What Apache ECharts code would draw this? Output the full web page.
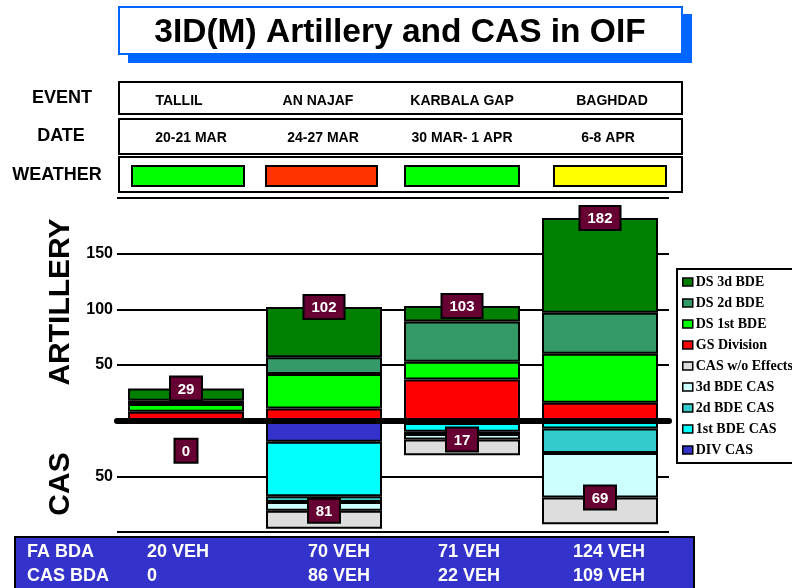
<!DOCTYPE html>
<html>
<head>
<meta charset="utf-8">
<title>3ID(M) Artillery and CAS in OIF</title>
<script src="https://cdn.jsdelivr.net/npm/echarts@6/dist/echarts.min.js"></script>
</head>
<body style="margin:0">
<div id="main" style="width:792px;height:588px;"></div>
<script type="text/javascript">
// table rows
var events = ['TALLIL', 'AN NAJAF', 'KARBALA GAP', 'BAGHDAD'];
var dates = ['20-21 MAR', '24-27 MAR', '30 MAR- 1 APR', '6-8 APR'];
var weather = ['#00ff00', '#ff3300', '#00ff00', '#ffff00'];

// artillery missions, stacked upward
var gsDivision = [8, 11, 37, 16];
var ds1stBde = [7, 31, 16, 44];
var ds2dBde = [3, 15, 36, 37];
var ds3dBde = [11, 45, 14, 85];
var artyTotal = [29, 102, 103, 182];

// CAS sorties, stacked downward
var divCas = [0, 19, 2, 0];
var bde1Cas = [0, 49, 8, 7];
var bde2Cas = [0, 5, 2, 22];
var bde3Cas = [0, 8, 5, 40];
var casNoEffect = [0, 16, 14, 24];
var casTotal = [0, 81, 17, 69];

// BDA strip
var faBda = ['20 VEH', '70 VEH', '71 VEH', '124 VEH'];
var casBda = ['0', '86 VEH', '22 VEH', '109 VEH'];

var FONT = "'Liberation Sans', Arial, sans-serif";
var myChart = echarts.init(document.getElementById('main'));

function neg(arr) {
    return arr.map(function (v) { return -v; });
}

function stackBar(name, data, stack, color) {
    return {
        name: name,
        type: 'bar',
        stack: stack,
        barWidth: 116,
        barGap: '-100%',
        data: data,
        itemStyle: { color: color, borderColor: '#000', borderWidth: 2 },
        emphasis: { disabled: true }
    };
}

function boxLabel(params, api) {
    var v = api.value(1);
    var p = api.coord([api.value(0), v]);
    var txt = String(Math.abs(v));
    var w = 14 + 9 * txt.length;
    var y = p[1];
    if (v === 0) y += 30;
    return {
        type: 'group',
        children: [{
            type: 'rect',
            shape: { x: p[0] - w / 2, y: y - 12, width: w, height: 24 },
            style: { fill: '#660033', stroke: '#000', lineWidth: 2 }
        }, {
            type: 'text',
            style: {
                text: txt, x: p[0], y: y + 1, align: 'center', verticalAlign: 'middle',
                font: 'bold 15px ' + FONT, fill: '#fff'
            }
        }]
    };
}

// header / table / footer drawn as graphics
var colEvent = [179, 318, 462, 612];
var colDate = [191, 323, 462, 608];
var colWx = [[132, 244], [266, 377], [405, 519], [554, 666]];
var colBda = [147, 308, 438, 573];

var g = [];
g.push({ type: 'rect', shape: { x: 128, y: 14, width: 564, height: 49 }, style: { fill: '#0066ff' } });
g.push({ type: 'rect', shape: { x: 119, y: 7, width: 563, height: 47 }, style: { fill: '#fff', stroke: '#0066ff', lineWidth: 2 } });
g.push({ type: 'text', style: { text: '3ID(M) Artillery and CAS in OIF', x: 400, y: 33, align: 'center', verticalAlign: 'middle', font: 'bold 33.5px ' + FONT, fill: '#000' } });

[[82, 32], [119, 35], [157, 35]].forEach(function (r) {
    g.push({ type: 'rect', shape: { x: 119, y: r[0], width: 563, height: r[1] }, style: { fill: '#fff', stroke: '#000', lineWidth: 2 } });
});
[['EVENT', 62, 98], ['DATE', 61, 136], ['WEATHER', 57, 175]].forEach(function (t) {
    g.push({ type: 'text', style: { text: t[0], x: t[1], y: t[2], align: 'center', verticalAlign: 'middle', font: 'bold 18px ' + FONT, fill: '#000' } });
});
events.forEach(function (e, i) {
    g.push({ type: 'text', style: { text: e, x: colEvent[i], y: 101, align: 'center', verticalAlign: 'middle', font: 'bold 14px ' + FONT, fill: '#000' } });
    g.push({ type: 'text', style: { text: dates[i], x: colDate[i], y: 138, align: 'center', verticalAlign: 'middle', font: 'bold 14px ' + FONT, fill: '#000' } });
    g.push({ type: 'rect', shape: { x: colWx[i][0], y: 166, width: colWx[i][1] - colWx[i][0], height: 20 }, style: { fill: weather[i], stroke: '#000', lineWidth: 2 } });
});

g.push({ type: 'text', rotation: Math.PI / 2, x: 61, y: 302, style: { text: 'ARTILLERY', x: 0, y: 0, align: 'center', verticalAlign: 'middle', font: 'bold 30px ' + FONT, fill: '#000' } });
g.push({ type: 'text', rotation: Math.PI / 2, x: 61, y: 484, style: { text: 'CAS', x: 0, y: 0, align: 'center', verticalAlign: 'middle', font: 'bold 30px ' + FONT, fill: '#000' } });

g.push({ type: 'rect', shape: { x: 15, y: 537, width: 679, height: 60 }, style: { fill: '#3333cc', stroke: '#000', lineWidth: 2 } });
var bdaStyle = { font: 'bold 18px ' + FONT, fill: '#fff', verticalAlign: 'middle', textShadowColor: '#000', textShadowOffsetX: 1.5, textShadowOffsetY: 1.5, textShadowBlur: 0 };
g.push({ type: 'text', style: Object.assign({ text: 'FA BDA', x: 27, y: 552 }, bdaStyle) });
g.push({ type: 'text', style: Object.assign({ text: 'CAS BDA', x: 27, y: 576 }, bdaStyle) });
faBda.forEach(function (t, i) {
    g.push({ type: 'text', style: Object.assign({ text: t, x: colBda[i], y: 552 }, bdaStyle) });
    g.push({ type: 'text', style: Object.assign({ text: casBda[i], x: colBda[i], y: 576 }, bdaStyle) });
});

var option = {
    animation: false,
    grid: { left: 117, right: 123, top: 198, bottom: 56 },
    legend: {
        orient: 'vertical',
        left: 677,
        top: 269,
        padding: [6, 40, 6, 5],
        borderColor: '#000',
        borderWidth: 2,
        itemWidth: 10,
        itemHeight: 8,
        itemGap: 7,
        icon: 'rect',
        itemStyle: { borderColor: '#000', borderWidth: 1.5 },
        textStyle: { fontFamily: "'Liberation Serif', 'Times New Roman', serif", fontWeight: 'bold', fontSize: 14, lineHeight: 14, color: '#000', padding: [0, 0, 0, -2] },
        data: ['DS 3d BDE', 'DS 2d BDE', 'DS 1st BDE', 'GS Division', 'CAS w/o Effects', '3d BDE CAS', '2d BDE CAS', '1st BDE CAS', 'DIV CAS']
    },
    xAxis: {
        type: 'category',
        data: events,
        z: 5,
        axisLine: { onZero: true, lineStyle: { color: '#000', width: 6 } },
        axisTick: { show: false },
        axisLabel: { show: false }
    },
    yAxis: {
        type: 'value',
        min: -100,
        max: 200,
        interval: 50,
        axisLine: { show: false },
        axisTick: { show: false },
        splitLine: { lineStyle: { color: '#000', width: 2 } },
        axisLabel: {
            margin: 4,
            fontFamily: FONT,
            fontWeight: 'bold',
            fontSize: 16,
            color: '#000',
            formatter: function (v) {
                return (v === 50 || v === 100 || v === 150 || v === -50) ? String(Math.abs(v)) : '';
            }
        }
    },
    series: [
        stackBar('GS Division', gsDivision, 'arty', '#ff0000'),
        stackBar('DS 1st BDE', ds1stBde, 'arty', '#00ff00'),
        stackBar('DS 2d BDE', ds2dBde, 'arty', '#339966'),
        stackBar('DS 3d BDE', ds3dBde, 'arty', '#007f00'),
        stackBar('DIV CAS', neg(divCas), 'cas', '#3333cc'),
        stackBar('1st BDE CAS', neg(bde1Cas), 'cas', '#00ffff'),
        stackBar('2d BDE CAS', neg(bde2Cas), 'cas', '#33cccc'),
        stackBar('3d BDE CAS', neg(bde3Cas), 'cas', '#ccffff'),
        stackBar('CAS w/o Effects', neg(casNoEffect), 'cas', '#dddddd'),
        {
            type: 'custom', z: 10, clip: false, renderItem: boxLabel,
            data: artyTotal.map(function (v, i) { return [i, v]; })
        },
        {
            type: 'custom', z: 10, clip: false, renderItem: boxLabel,
            data: casTotal.map(function (v, i) { return [i, -v]; })
        }
    ],
    graphic: { elements: g }
};

myChart.setOption(option);
</script>
</body>
</html>
